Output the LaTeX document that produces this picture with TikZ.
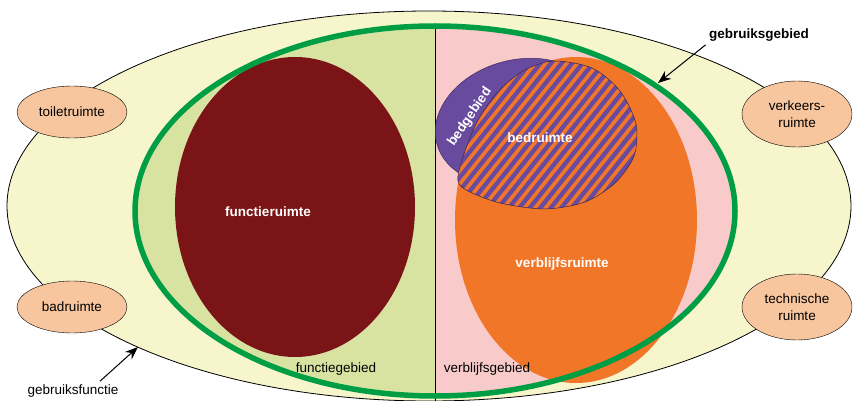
\documentclass[tikz,border=0pt]{standalone}
\usepackage{fontspec}
\setmainfont{Liberation Sans}
\usetikzlibrary{shapes.geometric, arrows.meta}
\definecolor{outerfill}{RGB}{246,245,204}
\definecolor{leftgreen}{RGB}{216,227,162}
\definecolor{rightpink}{RGB}{248,202,202}
\definecolor{gborder}{RGB}{0,158,68}
\definecolor{darkred}{RGB}{122,20,22}
\definecolor{oranje}{RGB}{241,118,40}
\definecolor{paars}{RGB}{104,74,158}
\definecolor{peach}{RGB}{248,198,158}

\begin{document}
\begin{tikzpicture}[x=1pt,y=-1pt,>={Stealth[length=13pt,width=10pt]},
  room/.style={ellipse,draw,fill=peach,minimum width=110pt,minimum height=52pt,
    align=center,font=\fontsize{13.5}{17}\selectfont},
  txt/.style={font=\fontsize{13.5}{16}\selectfont},
  ruimte/.style={white,font=\bfseries\fontsize{13.5}{16}\selectfont}]
\useasboundingbox (0,0) rectangle (857,401);
% gebruiksfunctie
\filldraw[fill=outerfill,line width=0.8pt] (429,206) ellipse [x radius=422pt,y radius=195pt];
\node[room] (toilet) at (72,112) {toiletruimte};
\node[room] (bad) at (72,307) {badruimte};
\node[room,minimum height=66pt] (verkeer) at (797,114) {verkeers-\\ruimte};
\node[room,minimum height=66pt] (techniek) at (797,307) {technische\\ruimte};
% gebruiksgebied
\begin{scope}
  \clip (435,211) ellipse [x radius=300pt,y radius=185pt];
  \fill[leftgreen] (130,0) rectangle (435,401);
  \fill[rightpink] (435,0) rectangle (740,401);
\end{scope}
\draw[line width=0.8pt] (435,27) -- (435,401);
\fill[darkred] (295,207) ellipse [x radius=120pt,y radius=150pt];
\fill[oranje] (576,220) ellipse [x radius=121pt,y radius=163pt];
\filldraw[fill=paars,draw=paars!60!black,line width=0.5pt,rotate around={15:(518,122)}]
  (518,122) ellipse [x radius=84pt,y radius=62pt];
% bedruimte, gestreept
\def\bedvorm{plot[smooth cycle] coordinates {(553,61) (592,68) (620,91) (636,124)
  (634,156) (615,183) (585,202) (545,209) (500,203) (468,191) (458,181) (462,160)
  (476,124) (497,93) (523,71)}}
\begin{scope}
  \clip \bedvorm;
  \fill[oranje] (440,40) rectangle (660,230);
  \foreach \i in {-200,-189.5,...,220}
    \draw[paars,line width=4.3pt] (547+\i-90,247) -- (547+\i+90,22);
\end{scope}
\draw[paars!50!black,line width=0.5pt] \bedvorm;
\draw[gborder,line width=5.5pt] (435,211) ellipse [x radius=300pt,y radius=185pt];
% teksten
\node[ruimte] (functieruimte) at (268,212) {functieruimte};
\node[ruimte] (bedruimte) at (540,138) {bedruimte};
\node[ruimte] (verblijfsruimte) at (562,264) {verblijfsruimte};
\node[ruimte,rotate=56] (bedgebied) at (470,117) {bedgebied};
\node[txt] (functiegebied) at (336,369) {functiegebied};
\node[txt] (verblijfsgebied) at (487,369) {verblijfsgebied};
\node[txt,font=\bfseries\fontsize{13.5}{16}\selectfont] (gebied) at (759,35) {gebruiksgebied};
\node[txt] (functie) at (73,391) {gebruiksfunctie};
\coordinate (gebiedpunt) at (658,83);
\coordinate (functiepunt) at (138,347);
\draw[->,line width=1pt] (gebied.south west) -- (gebiedpunt);
\draw[->,line width=1pt] ([xshift=27pt]functie.north) -- (functiepunt);
\end{tikzpicture}
\end{document}
